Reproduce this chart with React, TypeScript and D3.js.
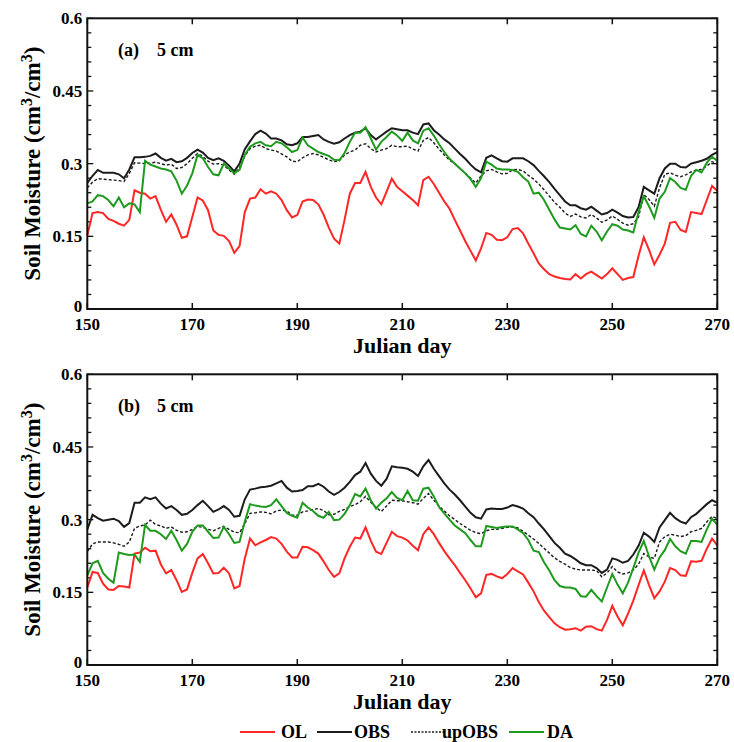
import React from 'react';
import * as d3 from 'd3';

// Julian days 150..270, one value per day
const days = d3.range(150, 271);

const xTicks = [150, 170, 190, 210, 230, 250, 270];
const yTicks = [0, 0.15, 0.3, 0.45, 0.6];
const yTickLabels = ['0', '0.15', '0.3', '0.45', '0.6'];
const yMinor = d3.range(0, 21).map(i => i * 0.03);

const legendNames = ['OL', 'OBS', 'upOBS', 'DA'];
const legendColors = ['#ff2626', '#1c1c1c', '#1c1c1c', '#1e9a1e'];

// panel (a)
const aOL = [
  0.152, 0.198, 0.2, 0.198, 0.186, 0.182, 0.176, 0.172, 0.184, 0.245,
  0.24, 0.238, 0.228, 0.233, 0.205, 0.18, 0.195, 0.174, 0.147, 0.15,
  0.19, 0.23, 0.224, 0.204, 0.162, 0.153, 0.151, 0.14, 0.116, 0.13,
  0.2, 0.228, 0.23, 0.247, 0.238, 0.243, 0.238, 0.225, 0.204, 0.189,
  0.194, 0.222, 0.226, 0.225, 0.216, 0.195, 0.168, 0.145, 0.135, 0.184,
  0.238, 0.26, 0.26, 0.283, 0.252, 0.23, 0.216, 0.242, 0.269, 0.252,
  0.243, 0.234, 0.225, 0.214, 0.266, 0.273, 0.258, 0.24, 0.222, 0.207,
  0.184, 0.162, 0.14, 0.12, 0.1, 0.125, 0.157, 0.153, 0.143, 0.142,
  0.148, 0.165, 0.167, 0.156, 0.135, 0.115, 0.094, 0.082, 0.072, 0.067,
  0.064, 0.062, 0.061, 0.072, 0.063, 0.072, 0.077, 0.07, 0.063, 0.072,
  0.084, 0.072, 0.06, 0.064, 0.066, 0.11, 0.148, 0.122, 0.092, 0.112,
  0.135, 0.178, 0.18, 0.163, 0.159, 0.2, 0.198, 0.196, 0.225, 0.254,
  0.244,
];
const aOBS = [
  0.26, 0.275, 0.287, 0.281, 0.281, 0.281, 0.278, 0.27, 0.288, 0.313,
  0.313, 0.314, 0.316, 0.321, 0.312, 0.306, 0.31, 0.303, 0.305, 0.312,
  0.322, 0.329, 0.323, 0.312, 0.307, 0.311, 0.306, 0.296, 0.284, 0.3,
  0.33, 0.346, 0.361, 0.368, 0.362, 0.352, 0.352, 0.348, 0.34, 0.338,
  0.342, 0.355, 0.355, 0.357, 0.359, 0.35, 0.345, 0.341, 0.344, 0.352,
  0.359, 0.364, 0.366, 0.373, 0.359, 0.35, 0.358, 0.366, 0.373, 0.371,
  0.369, 0.369, 0.364, 0.361, 0.381, 0.383, 0.369, 0.36, 0.35, 0.342,
  0.331, 0.32, 0.31, 0.298, 0.288, 0.282, 0.312, 0.317, 0.311, 0.305,
  0.304, 0.311, 0.311, 0.311, 0.305, 0.297, 0.285, 0.274, 0.262, 0.248,
  0.235, 0.222, 0.214, 0.214, 0.208, 0.205, 0.211, 0.203, 0.195, 0.198,
  0.205, 0.199, 0.192, 0.189, 0.19, 0.21, 0.252, 0.245, 0.238, 0.27,
  0.29, 0.3, 0.3, 0.293, 0.292, 0.3, 0.303, 0.306, 0.31, 0.318,
  0.324,
];
const aUp = [
  0.25, 0.262, 0.269, 0.268, 0.267, 0.266, 0.265, 0.263, 0.28, 0.302,
  0.301, 0.3, 0.301, 0.303, 0.3, 0.297, 0.299, 0.29, 0.292, 0.3,
  0.311, 0.321, 0.315, 0.305, 0.299, 0.3, 0.297, 0.287, 0.278, 0.292,
  0.316, 0.331, 0.336, 0.338, 0.331, 0.328, 0.326, 0.32, 0.314, 0.305,
  0.304, 0.312, 0.318, 0.321, 0.318, 0.313, 0.308, 0.304, 0.306, 0.318,
  0.324, 0.328, 0.338, 0.341, 0.331, 0.324, 0.328, 0.331, 0.338, 0.335,
  0.335, 0.336, 0.33, 0.326, 0.348, 0.354, 0.343, 0.33, 0.318, 0.307,
  0.3, 0.29, 0.28, 0.27, 0.26, 0.275, 0.285, 0.288, 0.283, 0.279,
  0.28, 0.287, 0.288, 0.285, 0.276, 0.268, 0.258, 0.246, 0.233, 0.22,
  0.21, 0.198, 0.191, 0.196, 0.19, 0.188, 0.195, 0.188, 0.179, 0.184,
  0.192, 0.185, 0.177, 0.173, 0.176, 0.19, 0.236, 0.226, 0.212, 0.25,
  0.278, 0.281, 0.276, 0.273, 0.277, 0.283, 0.287, 0.288, 0.295, 0.304,
  0.3,
];
const aDA = [
  0.218, 0.222, 0.235, 0.233, 0.225, 0.212, 0.23, 0.21, 0.218, 0.216,
  0.2, 0.306, 0.298, 0.294, 0.29, 0.288, 0.284, 0.265, 0.238, 0.255,
  0.28, 0.318, 0.311, 0.293, 0.278, 0.276, 0.3, 0.29, 0.28, 0.287,
  0.318, 0.335, 0.342, 0.345, 0.338, 0.336, 0.345, 0.342, 0.334, 0.324,
  0.328, 0.354, 0.338, 0.331, 0.324, 0.32, 0.316, 0.308, 0.307, 0.322,
  0.345, 0.364, 0.364, 0.375, 0.352, 0.329, 0.345, 0.355, 0.366, 0.358,
  0.347, 0.364, 0.348, 0.342, 0.368, 0.373, 0.358, 0.34, 0.324, 0.31,
  0.3, 0.29, 0.28, 0.268, 0.252, 0.27, 0.304, 0.298, 0.29, 0.288,
  0.288, 0.287, 0.283, 0.272, 0.263, 0.238, 0.24, 0.225, 0.205, 0.185,
  0.168, 0.166, 0.164, 0.173, 0.155, 0.15, 0.172, 0.16, 0.142, 0.16,
  0.175, 0.172, 0.164, 0.162, 0.158, 0.2, 0.232, 0.212, 0.188, 0.228,
  0.242, 0.27, 0.262, 0.25, 0.246, 0.275, 0.287, 0.282, 0.302, 0.314,
  0.306,
];

// panel (b)
const bOL = [
  0.16, 0.192, 0.19, 0.168, 0.156, 0.155, 0.163, 0.162, 0.16, 0.23,
  0.232, 0.242, 0.235, 0.236, 0.208, 0.189, 0.196, 0.175, 0.151, 0.156,
  0.19, 0.22, 0.229, 0.21, 0.189, 0.19, 0.201, 0.189, 0.158, 0.163,
  0.22, 0.261, 0.247, 0.253, 0.258, 0.264, 0.261, 0.25, 0.234, 0.222,
  0.222, 0.244, 0.243, 0.237, 0.23, 0.214, 0.196, 0.182, 0.189, 0.22,
  0.244, 0.263, 0.261, 0.284, 0.256, 0.234, 0.229, 0.252, 0.275, 0.266,
  0.263, 0.257, 0.246, 0.237, 0.27, 0.284, 0.27, 0.252, 0.235, 0.22,
  0.206, 0.19, 0.175, 0.158, 0.14, 0.148, 0.186, 0.188, 0.183, 0.179,
  0.188, 0.2, 0.193, 0.187, 0.17, 0.152, 0.13, 0.112, 0.099, 0.086,
  0.078, 0.073, 0.074, 0.076, 0.071, 0.079, 0.08, 0.074, 0.071, 0.093,
  0.122, 0.1, 0.082, 0.106, 0.133, 0.165, 0.195, 0.165, 0.138, 0.152,
  0.172, 0.2, 0.196, 0.185, 0.184, 0.214, 0.213, 0.215, 0.24, 0.261,
  0.247,
];
const bOBS = [
  0.28, 0.31, 0.303, 0.298, 0.3, 0.302, 0.297, 0.285, 0.293, 0.335,
  0.335, 0.346, 0.342, 0.346, 0.333, 0.323, 0.328, 0.32, 0.31, 0.312,
  0.32, 0.33, 0.339, 0.328, 0.316, 0.321, 0.328, 0.32, 0.306, 0.308,
  0.342, 0.362, 0.364, 0.367, 0.368, 0.37, 0.375, 0.38, 0.366, 0.358,
  0.359, 0.361, 0.369, 0.369, 0.374, 0.368, 0.358, 0.351, 0.357, 0.366,
  0.378, 0.392, 0.399, 0.417, 0.395, 0.38, 0.37, 0.384, 0.41, 0.408,
  0.407, 0.405, 0.399, 0.39, 0.41, 0.423, 0.405, 0.39, 0.375, 0.362,
  0.352, 0.34, 0.327, 0.314, 0.305, 0.302, 0.321, 0.323, 0.322, 0.322,
  0.325, 0.33, 0.327, 0.323, 0.313, 0.305, 0.292, 0.28, 0.266, 0.252,
  0.242, 0.23, 0.225, 0.218, 0.21, 0.206, 0.206, 0.2, 0.19, 0.197,
  0.22, 0.217, 0.211, 0.215, 0.228, 0.246, 0.273, 0.265, 0.254, 0.284,
  0.299, 0.314, 0.303, 0.296, 0.292, 0.305, 0.312, 0.322, 0.332, 0.34,
  0.335,
];
const bUp = [
  0.234, 0.25, 0.254, 0.254, 0.254, 0.252, 0.249, 0.245, 0.254, 0.282,
  0.287, 0.289, 0.299, 0.29, 0.287, 0.282, 0.285, 0.278, 0.274, 0.275,
  0.28, 0.286, 0.284, 0.28, 0.277, 0.282, 0.286, 0.28, 0.274, 0.273,
  0.292, 0.313, 0.314, 0.316, 0.315, 0.312, 0.318, 0.32, 0.318, 0.309,
  0.309, 0.316, 0.318, 0.321, 0.323, 0.319, 0.31, 0.311, 0.317, 0.321,
  0.327, 0.331, 0.337, 0.348, 0.336, 0.325, 0.317, 0.328, 0.34, 0.339,
  0.339, 0.337, 0.335, 0.332, 0.344, 0.354, 0.34, 0.328, 0.318, 0.308,
  0.3, 0.292, 0.285, 0.278, 0.273, 0.271, 0.277, 0.28, 0.28, 0.282,
  0.284, 0.285, 0.283, 0.276, 0.268, 0.26, 0.251, 0.241, 0.231, 0.221,
  0.214, 0.208, 0.201, 0.198, 0.196, 0.196, 0.196, 0.195, 0.182, 0.19,
  0.203, 0.192, 0.188, 0.19, 0.196, 0.208, 0.23, 0.223, 0.22, 0.254,
  0.265, 0.27, 0.268, 0.265, 0.267, 0.275, 0.278, 0.282, 0.295, 0.307,
  0.302,
];
const bDA = [
  0.185, 0.21, 0.215, 0.19, 0.178, 0.17, 0.232, 0.229, 0.227, 0.228,
  0.213, 0.289, 0.277, 0.277, 0.27, 0.26, 0.277, 0.258, 0.236, 0.25,
  0.275, 0.288, 0.288, 0.275, 0.262, 0.263, 0.285, 0.27, 0.252, 0.254,
  0.296, 0.332, 0.329, 0.327, 0.326, 0.33, 0.342, 0.328, 0.314, 0.308,
  0.304, 0.335, 0.325, 0.318, 0.308, 0.304, 0.316, 0.299, 0.3, 0.312,
  0.33, 0.353, 0.348, 0.364, 0.34, 0.323, 0.335, 0.344, 0.357, 0.345,
  0.34, 0.359, 0.34, 0.339, 0.364, 0.366, 0.348, 0.326, 0.313, 0.3,
  0.288, 0.28, 0.272, 0.258, 0.245, 0.245, 0.287, 0.285, 0.283, 0.285,
  0.286, 0.286, 0.28, 0.272, 0.258, 0.236, 0.233, 0.212, 0.195, 0.175,
  0.163, 0.16, 0.16, 0.157, 0.142, 0.141, 0.155, 0.142, 0.131, 0.16,
  0.188, 0.166, 0.148, 0.17, 0.2, 0.232, 0.256, 0.224, 0.197, 0.222,
  0.237, 0.26, 0.245, 0.235, 0.23, 0.256, 0.256, 0.254, 0.28, 0.302,
  0.289,
];

const font = '"Liberation Serif", "Times New Roman", serif';
const left = 87.3, right = 717.3, plotH = 290.7;

function Panel({ top, tag, ol, obs, up, da }: any) {
  const bottom = top + plotH;
  const x = d3.scaleLinear().domain([150, 270]).range([left, right]);
  const y = d3.scaleLinear().domain([0, 0.6]).range([bottom, top]);
  const path = (vals: number[]) =>
    d3.line<number>().x((d, i) => x(days[i])).y(d => y(d))(vals) || '';

  return (
    <g>
      {/* minor + major y ticks, both sides */}
      {yMinor.map((v, i) => {
        const len = i % 5 === 0 ? 6 : 4;
        return (
          <g key={'yt' + i} stroke="#111" strokeWidth={1.3}>
            <line x1={left} x2={left + len} y1={y(v)} y2={y(v)} />
            <line x1={right} x2={right - len} y1={y(v)} y2={y(v)} />
          </g>
        );
      })}
      {xTicks.map(t => (
        <g key={'xt' + t} stroke="#111" strokeWidth={1.5}>
          <line x1={x(t)} x2={x(t)} y1={bottom} y2={bottom - 6} />
          <line x1={x(t)} x2={x(t)} y1={top} y2={top + 6} />
        </g>
      ))}

      <path d={path(ol)} fill="none" stroke={legendColors[0]} strokeWidth={2} />
      <path d={path(obs)} fill="none" stroke={legendColors[1]} strokeWidth={2} />
      <path d={path(up)} fill="none" stroke={legendColors[2]} strokeWidth={1.4} strokeDasharray="3,2" />
      <path d={path(da)} fill="none" stroke={legendColors[3]} strokeWidth={2} />

      <rect x={left} y={top} width={right - left} height={plotH} fill="none" stroke="#111" strokeWidth={2} />

      {yTicks.map((v, i) => (
        <text key={'yl' + i} x={left - 5} y={y(v) - (i === 0 ? 3 : 0)} dy="0.35em" textAnchor="end"
          fontFamily={font} fontWeight="bold" fontSize={17}>{yTickLabels[i]}</text>
      ))}
      {xTicks.map(t => (
        <text key={'xl' + t} x={x(t)} y={bottom + 21} textAnchor="middle"
          fontFamily={font} fontWeight="bold" fontSize={17}>{t}</text>
      ))}
      <text x={(left + right) / 2} y={bottom + 44} textAnchor="middle"
        fontFamily={font} fontWeight="bold" fontSize={22}>Julian day</text>
      <text transform={`translate(40,${top + plotH / 2}) rotate(-90)`} textAnchor="middle"
        fontFamily={font} fontWeight="bold" fontSize={23}>
        Soil Moisture (cm<tspan dy="-8" fontSize={16}>3</tspan><tspan dy="8">/cm</tspan>
        <tspan dy="-8" fontSize={16}>3</tspan><tspan dy="8">)</tspan>
      </text>
      <text x={118} y={top + 38} fontFamily={font} fontWeight="bold" fontSize={18}>
        {tag}<tspan x={157}>5 cm</tspan>
      </text>
    </g>
  );
}

function Legend() {
  const lineX = [240, 317, 411, 509];
  const textX = [281, 354, 442, 547];
  const ly = 732;
  return (
    <g>
      {legendNames.map((n, i) => (
        <g key={n}>
          <line x1={lineX[i]} x2={lineX[i] + 35} y1={ly} y2={ly} stroke={legendColors[i]}
            strokeWidth={i === 2 ? 1.4 : 2} strokeDasharray={i === 2 ? '2,1.5' : undefined} />
          <text x={textX[i]} y={ly + 6} fontFamily={font} fontWeight="bold" fontSize={18}>{n}</text>
        </g>
      ))}
    </g>
  );
}

export default function App() {
  return (
    <svg width={734} height={742} style={{ position: 'absolute', left: 0, top: 0, background: '#fff' }}>
      <rect width={734} height={742} fill="#fff" />
      <Panel top={18.3} tag="(a)" ol={aOL} obs={aOBS} up={aUp} da={aDA} />
      <Panel top={374.3} tag="(b)" ol={bOL} obs={bOBS} up={bUp} da={bDA} />
      <Legend />
    </svg>
  );
}
